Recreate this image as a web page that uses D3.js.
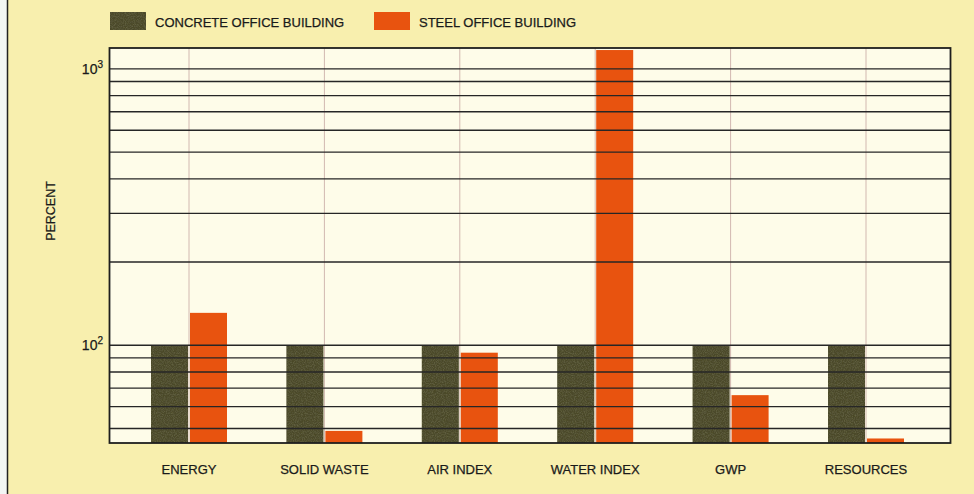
<!DOCTYPE html>
<html>
<head>
<meta charset="utf-8">
<script src="https://cdn.jsdelivr.net/npm/d3@7"></script>
<style>
  html, body { margin: 0; padding: 0; background: #f8efae; }
  svg { display: block; }
  text { font-family: "Liberation Sans", Arial, sans-serif; fill: #1a1a1a; stroke: #1a1a1a; stroke-width: 0.25; }
</style>
</head>
<body>
<svg id="chart" width="974" height="494"></svg>
<script>
// Environmental indicators, steel vs. concrete office building (concrete = 100%)
const categories = ["ENERGY", "SOLID WASTE", "AIR INDEX", "WATER INDEX", "GWP", "RESOURCES"];
const concreteValues = [100, 100, 100, 100, 100, 100];
const steelValues = [131, 49, 94, 1170, 66, 46];
const seriesNames = ["CONCRETE OFFICE BUILDING", "STEEL OFFICE BUILDING"];
const seriesColors = ["#4b4a2b", "#e8530f"];
const decadeTicks = [100, 1000];
const decadeLabels = ["2", "3"];
const yDomain = [44.3, 1190];

const W = 974, H = 494;
const plot = { left: 109.5, right: 950.5, top: 48, bottom: 443 };

const svg = d3.select("#chart");

// page background and left rule
svg.append("rect").attr("width", W).attr("height", H).attr("fill", "#f8efae");
svg.append("rect").attr("x", 0).attr("y", 0).attr("width", 7).attr("height", H).attr("fill", "#f3f6f4");
svg.append("line").attr("x1", 7.5).attr("x2", 7.5).attr("y1", 0).attr("y2", H)
  .attr("stroke", "#222").attr("stroke-width", 1.5);

const x = d3.scaleBand().domain(categories).range([121.3, 933.7]).padding(0);
const inner = d3.scaleBand().domain(["concrete", "steel"]).range([-38, 38]).paddingInner(2 / 39);
const y = d3.scaleLog().domain(yDomain).range([plot.bottom, plot.top]);

// plot background
svg.append("rect")
  .attr("x", plot.left).attr("y", plot.top)
  .attr("width", plot.right - plot.left).attr("height", plot.bottom - plot.top)
  .attr("fill", "#fefce9");

// vertical guide lines at category centres
svg.append("g").selectAll("line").data(categories).join("line")
  .attr("x1", d => x(d) + x.bandwidth() / 2).attr("x2", d => x(d) + x.bandwidth() / 2)
  .attr("y1", plot.top).attr("y2", plot.bottom)
  .attr("stroke", "#d2b8b0").attr("stroke-width", 1);

// grain texture for the concrete bars
const defs = svg.append("defs");
const f = defs.append("filter").attr("id", "grain").attr("x", 0).attr("y", 0).attr("width", 1).attr("height", 1);
f.append("feTurbulence").attr("type", "fractalNoise").attr("baseFrequency", 0.9).attr("numOctaves", 2).attr("seed", 3).attr("result", "n");
f.append("feColorMatrix").attr("in", "n").attr("type", "matrix")
  .attr("values", "0 0 0 0 0.2  0 0 0 0 0.2  0 0 0 0 0.1  0 0 0 0.9 -0.35").attr("result", "g");
f.append("feComposite").attr("in", "g").attr("in2", "SourceGraphic").attr("operator", "in").attr("result", "gm");
f.append("feMerge").selectAll("feMergeNode").data(["SourceGraphic", "gm"]).join("feMergeNode").attr("in", d => d);

const rows = categories.map((c, i) => ({ c, concrete: concreteValues[i], steel: steelValues[i] }));
const bars = svg.append("g");
rows.forEach(r => {
  const cx = x(r.c) + x.bandwidth() / 2;
  bars.append("rect")
    .attr("x", cx + inner("concrete")).attr("width", inner.bandwidth())
    .attr("y", y(r.concrete)).attr("height", plot.bottom - y(r.concrete))
    .attr("fill", seriesColors[0]).attr("filter", "url(#grain)");
  bars.append("rect")
    .attr("x", cx + inner("steel")).attr("width", inner.bandwidth())
    .attr("y", y(r.steel)).attr("height", plot.bottom - y(r.steel))
    .attr("fill", seriesColors[1]);
});

// horizontal grid (log minor ticks), drawn over the bars
const gridVals = y.ticks().filter(v => v >= yDomain[0] && v <= yDomain[1]);
svg.append("g").selectAll("line").data(gridVals).join("line")
  .attr("x1", plot.left).attr("x2", plot.right)
  .attr("y1", d => y(d)).attr("y2", d => y(d))
  .attr("stroke", "#262626").attr("stroke-width", 1.4);

// plot frame
svg.append("rect")
  .attr("x", plot.left).attr("y", plot.top)
  .attr("width", plot.right - plot.left).attr("height", plot.bottom - plot.top)
  .attr("fill", "none").attr("stroke", "#1e1e1e").attr("stroke-width", 1.8);

// y tick labels: powers of ten
const yl = svg.append("g").selectAll("text").data(decadeTicks).join("text")
  .attr("x", 103).attr("y", d => y(d) + 5)
  .attr("text-anchor", "end").attr("font-size", 14);
yl.append("tspan").text("10");
yl.append("tspan").attr("dy", -6).attr("font-size", 10).text((d, i) => decadeLabels[i]);

// y axis title
svg.append("text")
  .attr("transform", "translate(55,211) rotate(-90)")
  .attr("text-anchor", "middle").attr("font-size", 12.5).text("PERCENT");

// category labels
svg.append("g").selectAll("text").data(categories).join("text")
  .attr("x", d => x(d) + x.bandwidth() / 2).attr("y", 474)
  .attr("text-anchor", "middle").attr("font-size", 13).text(d => d);

// legend
const legendX = [110, 374];
const lg = svg.append("g").selectAll("g").data(seriesNames).join("g")
  .attr("transform", (d, i) => `translate(${legendX[i]},12)`);
lg.append("rect").attr("width", 36).attr("height", 18)
  .attr("fill", (d, i) => seriesColors[i])
  .attr("filter", (d, i) => i === 0 ? "url(#grain)" : null);
lg.append("text").attr("x", 45).attr("y", 14.5).attr("font-size", 13).text(d => d);
</script>
</body>
</html>
